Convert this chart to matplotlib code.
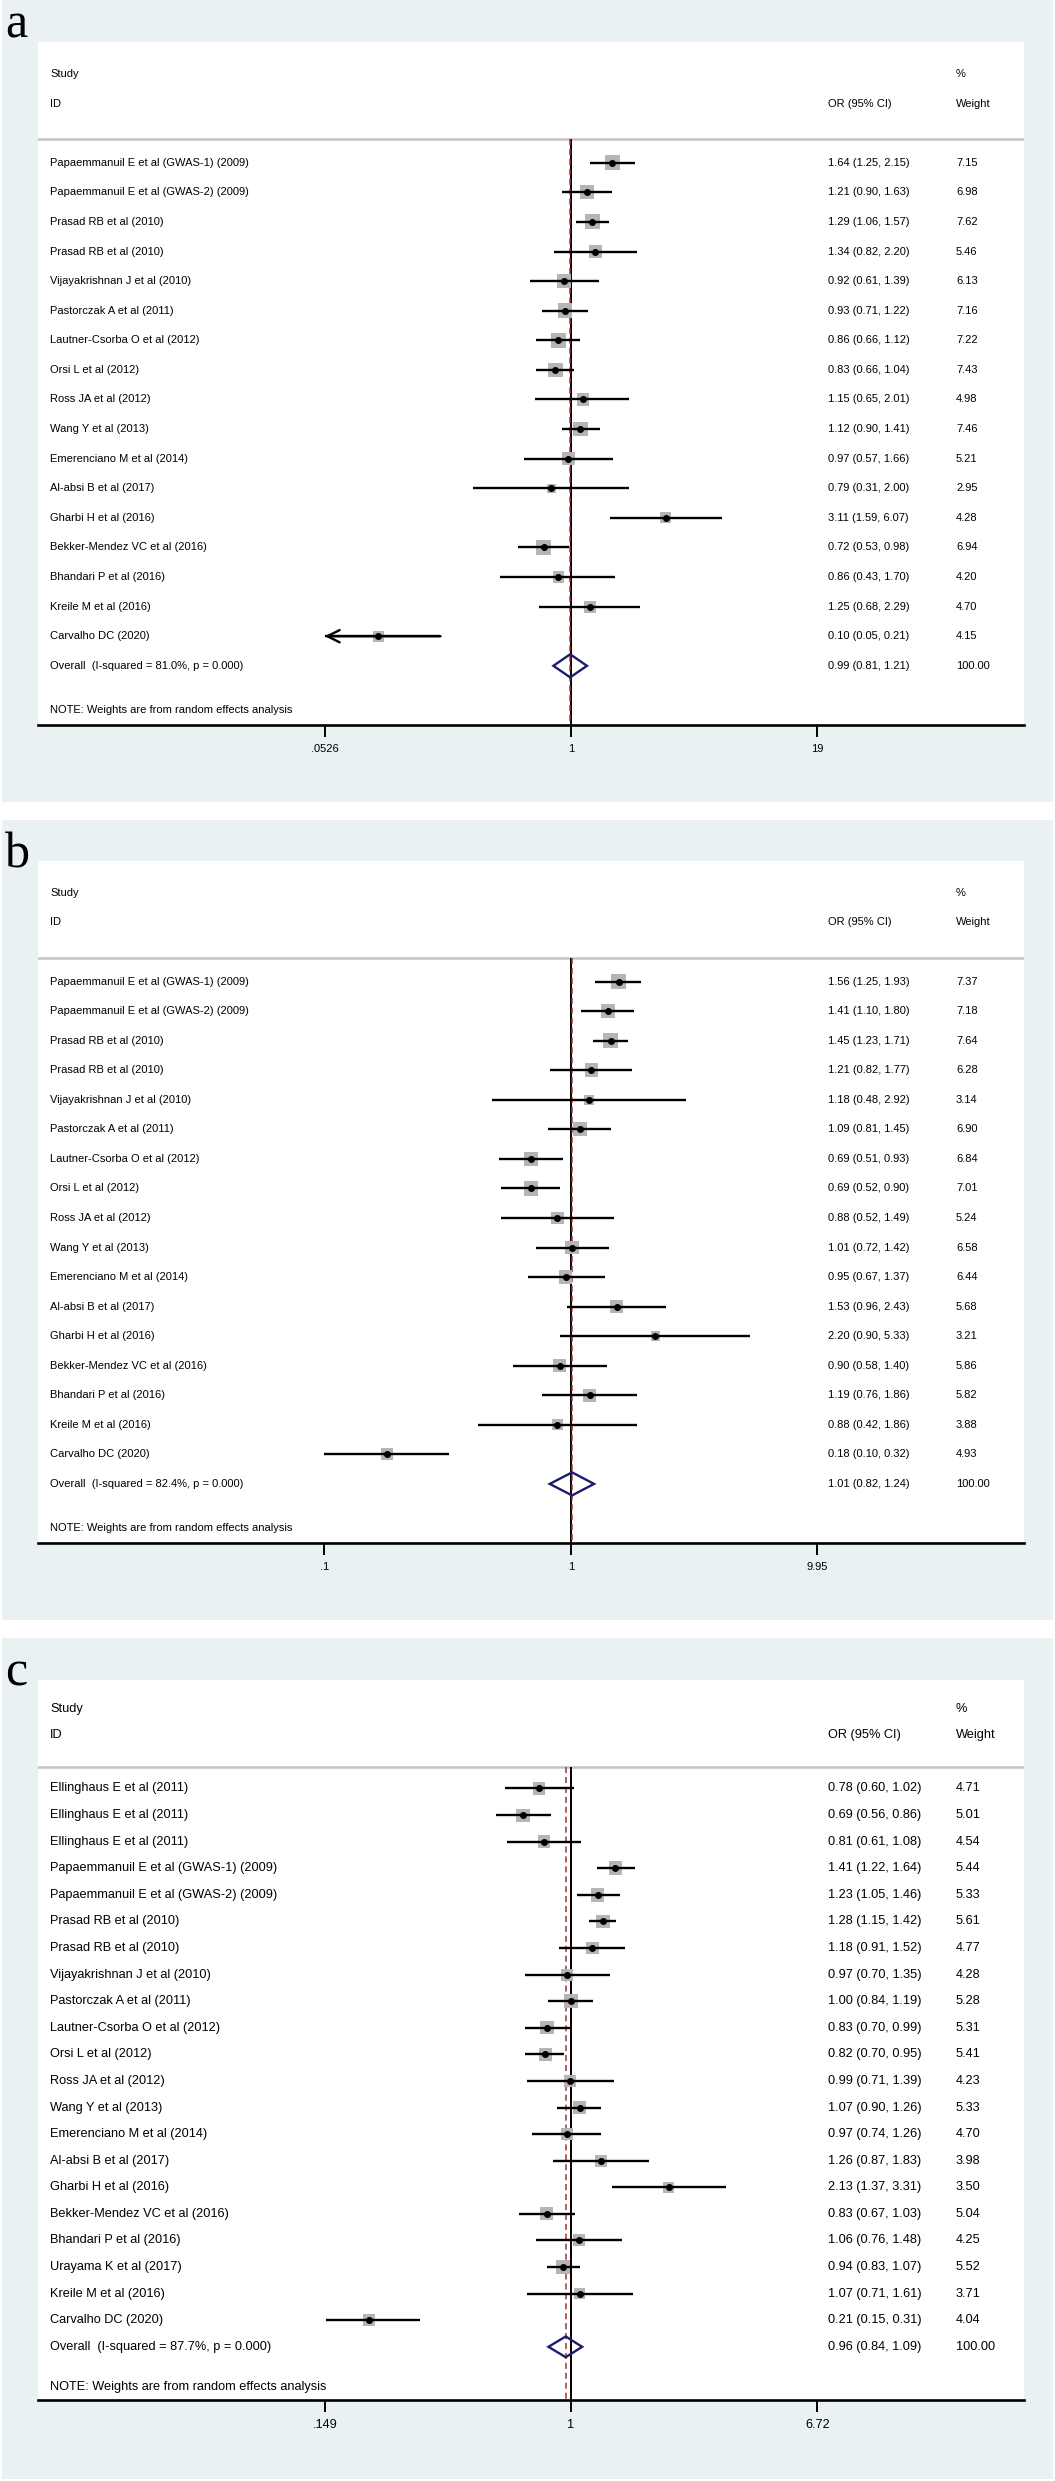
import numpy as np
import matplotlib.pyplot as plt
from matplotlib.patches import Rectangle, Polygon
from matplotlib.ticker import NullLocator

plt.rcParams['font.family'] = ['Liberation Sans', 'DejaVu Sans']

W, H = 1055, 2481

# ---- data -------------------------------------------------------------
names_ab = [
    'Papaemmanuil E et al (GWAS-1) (2009)',
    'Papaemmanuil E et al (GWAS-2) (2009)',
    'Prasad RB et al (2010)',
    'Prasad RB et al (2010)',
    'Vijayakrishnan J et al (2010)',
    'Pastorczak A et al (2011)',
    'Lautner-Csorba O et al (2012)',
    'Orsi L et al (2012)',
    'Ross JA et al (2012)',
    'Wang Y et al (2013)',
    'Emerenciano M et al (2014)',
    'Al-absi B et al (2017)',
    'Gharbi H et al (2016)',
    'Bekker-Mendez VC et al (2016)',
    'Bhandari P et al (2016)',
    'Kreile M et al (2016)',
    'Carvalho DC (2020)',
]

a_or = [1.64, 1.21, 1.29, 1.34, 0.92, 0.93, 0.86, 0.83, 1.15, 1.12, 0.97, 0.79, 3.11, 0.72, 0.86, 1.25, 0.10]
a_lo = [1.25, 0.90, 1.06, 0.82, 0.61, 0.71, 0.66, 0.66, 0.65, 0.90, 0.57, 0.31, 1.59, 0.53, 0.43, 0.68, 0.05]
a_hi = [2.15, 1.63, 1.57, 2.20, 1.39, 1.22, 1.12, 1.04, 2.01, 1.41, 1.66, 2.00, 6.07, 0.98, 1.70, 2.29, 0.21]
a_w = [7.15, 6.98, 7.62, 5.46, 6.13, 7.16, 7.22, 7.43, 4.98, 7.46, 5.21, 2.95, 4.28, 6.94, 4.20, 4.70, 4.15]
a_overall = (0.99, 0.81, 1.21)
a_isq, a_p = 81.0, 0.000
a_ticks = [0.0526, 1, 19]
a_ticklabels = ['.0526', '1', '19']

b_or = [1.56, 1.41, 1.45, 1.21, 1.18, 1.09, 0.69, 0.69, 0.88, 1.01, 0.95, 1.53, 2.20, 0.90, 1.19, 0.88, 0.18]
b_lo = [1.25, 1.10, 1.23, 0.82, 0.48, 0.81, 0.51, 0.52, 0.52, 0.72, 0.67, 0.96, 0.90, 0.58, 0.76, 0.42, 0.10]
b_hi = [1.93, 1.80, 1.71, 1.77, 2.92, 1.45, 0.93, 0.90, 1.49, 1.42, 1.37, 2.43, 5.33, 1.40, 1.86, 1.86, 0.32]
b_w = [7.37, 7.18, 7.64, 6.28, 3.14, 6.90, 6.84, 7.01, 5.24, 6.58, 6.44, 5.68, 3.21, 5.86, 5.82, 3.88, 4.93]
b_overall = (1.01, 0.82, 1.24)
b_isq, b_p = 82.4, 0.000
b_ticks = [0.1, 1, 9.95]
b_ticklabels = ['.1', '1', '9.95']

names_c = [
    'Ellinghaus E et al (2011)',
    'Ellinghaus E et al (2011)',
    'Ellinghaus E et al (2011)',
    'Papaemmanuil E et al (GWAS-1) (2009)',
    'Papaemmanuil E et al (GWAS-2) (2009)',
    'Prasad RB et al (2010)',
    'Prasad RB et al (2010)',
    'Vijayakrishnan J et al (2010)',
    'Pastorczak A et al (2011)',
    'Lautner-Csorba O et al (2012)',
    'Orsi L et al (2012)',
    'Ross JA et al (2012)',
    'Wang Y et al (2013)',
    'Emerenciano M et al (2014)',
    'Al-absi B et al (2017)',
    'Gharbi H et al (2016)',
    'Bekker-Mendez VC et al (2016)',
    'Bhandari P et al (2016)',
    'Urayama K et al (2017)',
    'Kreile M et al (2016)',
    'Carvalho DC (2020)',
]
c_or = [0.78, 0.69, 0.81, 1.41, 1.23, 1.28, 1.18, 0.97, 1.00, 0.83, 0.82, 0.99, 1.07, 0.97, 1.26, 2.13, 0.83, 1.06, 0.94, 1.07, 0.21]
c_lo = [0.60, 0.56, 0.61, 1.22, 1.05, 1.15, 0.91, 0.70, 0.84, 0.70, 0.70, 0.71, 0.90, 0.74, 0.87, 1.37, 0.67, 0.76, 0.83, 0.71, 0.15]
c_hi = [1.02, 0.86, 1.08, 1.64, 1.46, 1.42, 1.52, 1.35, 1.19, 0.99, 0.95, 1.39, 1.26, 1.26, 1.83, 3.31, 1.03, 1.48, 1.07, 1.61, 0.31]
c_w = [4.71, 5.01, 4.54, 5.44, 5.33, 5.61, 4.77, 4.28, 5.28, 5.31, 5.41, 4.23, 5.33, 4.70, 3.98, 3.50, 5.04, 4.25, 5.52, 3.71, 4.04]
c_overall = (0.96, 0.84, 1.09)
c_isq, c_p = 87.7, 0.000
c_ticks = [0.149, 1, 6.72]
c_ticklabels = ['.149', '1', '6.72']

# ---- drawing ------------------------------------------------------------
BG = '#e9f1f2'
BOX = '#b5b5b5'
NAVY = '#1c1c6e'
RED = '#a83232'

fig = plt.figure(figsize=(W / 100, H / 100), dpi=100)


def fx(x):
    return x / W


def fy(y):
    return 1 - y / H


def panel(letter, bg_top, bg_bot, base, top, bot, names, est, lo, hi, wt,
          overall, isq, p, ticks, ticklabels, fs, box_k):
    fig.add_artist(Rectangle((fx(2), fy(bg_bot)), fx(1053) - fx(2), fy(bg_top) - fy(bg_bot),
                             transform=fig.transFigure, facecolor=BG, edgecolor='none', zorder=0))
    fig.text(fx(5), fy(base), letter, family=['Liberation Serif', 'DejaVu Serif'],
             fontsize=36, va='baseline', ha='left')

    left, right, null_px = 38, 1024, 571
    ax = fig.add_axes([fx(left), fy(bot), fx(right) - fx(left), fy(top) - fy(bot)])
    ax.set_facecolor('white')
    n = len(names)
    rows = np.arange(n)

    # log x scale: outer ticks at 324.5 and 817 px, 1 at 571 px
    ppl = (817 - 324.5) / (np.log(ticks[-1]) - np.log(ticks[0]))
    ax.set_xscale('log')
    ax.set_xlim(np.exp(-(null_px - left) / ppl), np.exp((right - null_px) / ppl))
    ax.set_ylim(n + 2.0, -4.08)

    ax.axhline(-0.8, color='#c4c4c4', lw=1.8, zorder=1)
    ax.vlines(1, -0.8, n + 2, color='k', lw=1.4, zorder=1)
    ax.vlines(overall[0], -0.8, n + 2, color=RED, lw=1.1, linestyles=(0, (4, 2.5)), zorder=1.5)

    sizes = (box_k * np.sqrt(np.array(wt)) * 0.72) ** 2
    ax.scatter(est, rows, marker='s', s=sizes, color=BOX, linewidths=0, zorder=2)

    tlo, thi = ticks[0], ticks[-1]
    for r in rows:
        x0 = max(lo[r], tlo)
        x1 = min(hi[r], thi)
        ax.hlines(r, x0, x1, color='k', lw=1.7, zorder=3)
        if lo[r] < tlo:
            ax.annotate('', xy=(tlo, r), xytext=(x1, r),
                        arrowprops=dict(arrowstyle='->', lw=1.7, color='k',
                                        mutation_scale=22, shrinkA=0, shrinkB=0), zorder=3)
        if hi[r] > thi:
            ax.annotate('', xy=(thi, r), xytext=(x0, r),
                        arrowprops=dict(arrowstyle='->', lw=1.7, color='k',
                                        mutation_scale=22, shrinkA=0, shrinkB=0), zorder=3)
    ax.plot(est, rows, 'o', ms=4, color='k', zorder=4)

    oest, olo, ohi = overall
    ax.add_patch(Polygon([(olo, n), (oest, n - 0.39), (ohi, n), (oest, n + 0.39)], closed=True,
                         fill=False, edgecolor=NAVY, lw=1.7, zorder=5))

    tr = ax.get_yaxis_transform()
    cx_name, cx_or, cx_w = (50 - left) / (right - left), (828 - left) / (right - left), (956 - left) / (right - left)
    ax.text(cx_name, -3, 'Study', transform=tr, fontsize=fs, va='center')
    ax.text(cx_name, -2, 'ID', transform=tr, fontsize=fs, va='center')
    ax.text(cx_or, -2, 'OR (95% CI)', transform=tr, fontsize=fs, va='center')
    ax.text(cx_w, -3, '%', transform=tr, fontsize=fs, va='center')
    ax.text(cx_w, -2, 'Weight', transform=tr, fontsize=fs, va='center')
    for r in rows:
        ax.text(cx_name, r, names[r], transform=tr, fontsize=fs, va='center')
        ax.text(cx_or, r, f'{est[r]:.2f} ({lo[r]:.2f}, {hi[r]:.2f})', transform=tr, fontsize=fs, va='center')
        ax.text(cx_w, r, f'{wt[r]:.2f}', transform=tr, fontsize=fs, va='center')
    ax.text(cx_name, n, f'Overall  (I-squared = {isq:.1f}%, p = {p:.3f})', transform=tr, fontsize=fs, va='center')
    ax.text(cx_or, n, f'{oest:.2f} ({olo:.2f}, {ohi:.2f})', transform=tr, fontsize=fs, va='center')
    ax.text(cx_w, n, f'{100:.2f}', transform=tr, fontsize=fs, va='center')
    ax.text(cx_name, n + 1.5, 'NOTE: Weights are from random effects analysis', transform=tr,
            fontsize=fs, va='center')

    for s in ['top', 'left', 'right']:
        ax.spines[s].set_visible(False)
    ax.spines['bottom'].set_linewidth(1.9)
    ax.set_xticks(ticks)
    ax.set_xticklabels(ticklabels)
    ax.xaxis.set_minor_locator(NullLocator())
    ax.tick_params(axis='x', direction='out', length=8.5, width=1.4, pad=5, labelsize=fs)
    ax.set_yticks([])
    return ax


panel('a', 0, 802, 37, 42, 725, names_ab, a_or, a_lo, a_hi, a_w,
      a_overall, a_isq, a_p, a_ticks, a_ticklabels, 8.0, 5.42)
panel('b', 820, 1620, 868, 861, 1543, names_ab, b_or, b_lo, b_hi, b_w,
      b_overall, b_isq, b_p, b_ticks, b_ticklabels, 8.0, 5.42)
panel('c', 1638, 2479, 1685, 1680, 2400, names_c, c_or, c_lo, c_hi, c_w,
      c_overall, c_isq, c_p, c_ticks, c_ticklabels, 9.2, 5.83)

fig.savefig('out.png', dpi=100)
